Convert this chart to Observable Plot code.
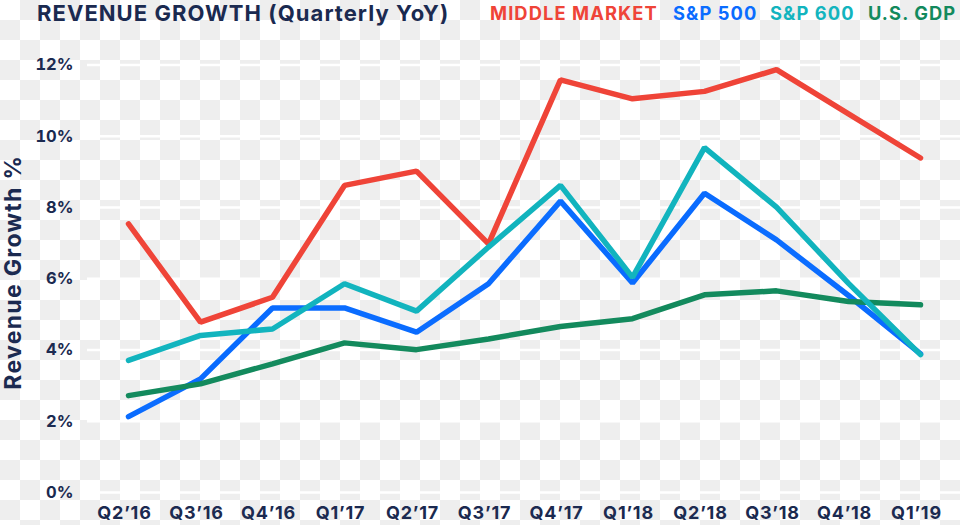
<!DOCTYPE html>
<html>
<head>
<meta charset="utf-8">
<script src="https://cdn.jsdelivr.net/npm/d3@7"></script>
<script src="https://cdn.jsdelivr.net/npm/@observablehq/plot@0.6"></script>
<style>
  html, body { margin: 0; padding: 0; }
  body {
    width: 960px; height: 525px; overflow: hidden;
    background-color: #fff;
    background-image: conic-gradient(#eeeeee 25%, #ffffff 0 50%, #eeeeee 0 75%, #ffffff 0);
    background-size: 40px 40px;
    font-family: Inter, "Open Sans", sans-serif;
  }
  #header { position: relative; height: 30px; }
  #header div { position: absolute; font-weight: 700; line-height: 1.25; white-space: nowrap; }
  #title { left: 37px; top: 0px; font-size: 22px; color: #1b2a50; letter-spacing: 1.05px; }
  .lg { top: 2px; font-size: 18.3px; letter-spacing: 1.1px; }
  svg { display: block; }
</style>
</head>
<body>
<div id="header">
  <div id="title">REVENUE GROWTH (Quarterly YoY)</div>
</div>
<div id="chart"></div>
<script>
const quarters = ["Q2’16","Q3’16","Q4’16","Q1’17","Q2’17","Q3’17","Q4’17","Q1’18","Q2’18","Q3’18","Q4’18","Q1’19"];
const seriesNames = ["MIDDLE MARKET","S&P 500","S&P 600","U.S. GDP"];
const seriesColors = ["#ef4438","#0a6cff","#12b4be","#138a5d"];
const middleMarket = [7.54, 4.78, 5.48, 8.62, 9.02, 6.98, 11.58, 11.05, 11.26, 11.87, 10.63, 9.39];
const sp500 = [2.13, 3.19, 5.18, 5.18, 4.50, 5.86, 8.18, 5.88, 8.40, 7.09, 5.53, 3.89];
const sp600 = [3.71, 4.41, 4.59, 5.86, 5.09, 6.89, 8.62, 6.04, 9.68, 8.01, 5.87, 3.87];
const usGdp = [2.72, 3.05, 3.61, 4.20, 4.01, 4.31, 4.66, 4.88, 5.55, 5.66, 5.36, 5.27];
const yTicks = [0, 2, 4, 6, 8, 10, 12];
const yLabel = "Revenue Growth %";

// legend (colored text)
const legendLeft = [490, 673, 770, 868];
const header = document.getElementById("header");
seriesNames.forEach((n, i) => {
  const d = document.createElement("div");
  d.className = "lg";
  d.textContent = n;
  d.style.left = legendLeft[i] + "px";
  d.style.color = seriesColors[i];
  header.appendChild(d);
});

const allSeries = [middleMarket, sp500, sp600, usGdp];
const drawOrder = [0, 1, 3, 2]; // red, blue, green, teal
const rows = [];
drawOrder.forEach(si => {
  allSeries[si].forEach((v, i) => rows.push({series: seriesNames[si], quarter: quarters[i], value: v}));
});

const navy = "#1b2a50";
const chart = Plot.plot({
  width: 960,
  height: 495,
  marginLeft: 87,
  marginRight: 0,
  marginTop: 34.5,
  marginBottom: 33,
  style: {background: "transparent", fontFamily: "Inter, 'Open Sans', sans-serif"},
  x: {type: "point", domain: quarters, padding: 0.51},
  y: {domain: [0, 12]},
  marks: [
    Plot.gridY(yTicks, {stroke: "#ffffff", strokeOpacity: 1, strokeWidth: 2.5}),
    Plot.axisY(yTicks, {tickSize: 0, tickPadding: 14, label: null, tickFormat: d => d + "%",
      fontSize: 16.5, fontWeight: 700, fill: navy}),
    Plot.axisX({tickSize: 0, tickPadding: 14, label: null, fontSize: 18, fontWeight: 700, fill: navy, dx: -4}),
    Plot.text([yLabel], {frameAnchor: "left", textAnchor: "middle", rotate: -90, dx: -73.5, dy: -6.5,
      fontSize: 23, fontWeight: 700, fill: navy}),
    ...drawOrder.map(si => Plot.line(rows.filter(r => r.series === seriesNames[si]), {
      x: "quarter", y: "value", stroke: seriesColors[si], strokeWidth: 5.5,
      strokeLinecap: "round", strokeLinejoin: "miter", curve: "linear"
    }))
  ]
});
d3.select(chart).selectAll("text").filter(function() { return this.textContent === yLabel; })
  .attr("letter-spacing", "1.3px");
d3.select(chart).selectAll("text").filter(function() { return quarters.includes(this.textContent); })
  .attr("letter-spacing", "0.8px");
document.getElementById("chart").appendChild(chart);
</script>
</body>
</html>
